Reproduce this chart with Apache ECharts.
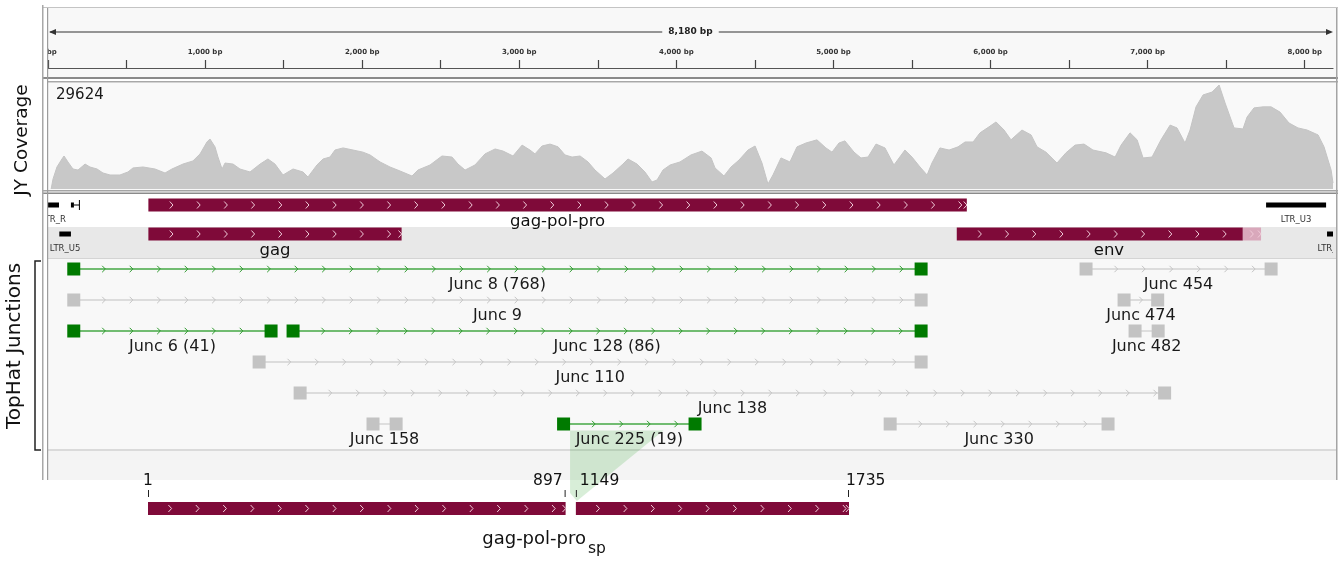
<!DOCTYPE html>
<html>
<head>
<meta charset="utf-8">
<script src="https://cdn.jsdelivr.net/npm/echarts@6/dist/echarts.min.js"></script>
<style>
  html, body { margin: 0; padding: 0; background: #ffffff; }
  #chart { width: 1344px; height: 561px; }
</style>
</head>
<body>
<div id="chart"></div>
<script>
// ---- genome ruler ----
const genomeLength = 8180;
const rulerTickStep = 500;
const rulerLabelStep = 1000;

// ---- read coverage (position in bp, depth) ----
const coverageMax = 29624;
const coveragePos = [
  20, 32, 57, 89, 102, 127, 159, 191, 236, 267,
  312, 350, 395, 458, 509, 541, 605, 681, 745, 789,
  859, 923, 968, 1012, 1031, 1063, 1082, 1108, 1127, 1178,
  1222, 1286, 1350, 1400, 1445, 1496, 1560, 1623, 1655, 1712,
  1751, 1795, 1827, 1878, 1942, 2005, 2050, 2114, 2177, 2241,
  2317, 2355, 2432, 2508, 2572, 2610, 2655, 2718, 2782, 2846,
  2897, 2960, 3018, 3068, 3100, 3145, 3196, 3247, 3291, 3336,
  3387, 3438, 3482, 3546, 3597, 3660, 3692, 3750, 3800, 3845,
  3877, 3915, 3960, 4023, 4093, 4163, 4221, 4246, 4303, 4348,
  4399, 4456, 4501, 4545, 4583, 4615, 4666, 4723, 4768, 4825,
  4895, 4952, 4991, 5035, 5073, 5131, 5175, 5220, 5271, 5328,
  5385, 5455, 5500, 5551, 5596, 5627, 5678, 5736, 5793, 5838,
  5889, 5933, 5990, 6035, 6086, 6130, 6200, 6258, 6296, 6353,
  6423, 6480, 6538, 6595, 6652, 6735, 6793, 6831, 6888, 6933,
  6971, 7028, 7085, 7143, 7187, 7238, 7270, 7308, 7353, 7410,
  7455, 7493, 7550, 7607, 7633, 7677, 7735, 7786, 7843, 7900,
  7957, 8015, 8085, 8123, 8168, 8180
];
const coverageDepth = [
  0, 2850, 6270, 8550, 9400, 7700, 5700, 5400, 7100, 6270,
  5700, 4560, 3990, 3990, 4850, 6000, 6270, 5700, 4560, 5700,
  7100, 8000, 10000, 13400, 14250, 12000, 9100, 5700, 7400, 7100,
  5700, 4850, 7100, 8550, 7100, 3990, 5700, 4850, 3420, 6840,
  8550, 9100, 11100, 11700, 11100, 10500, 9700, 7700, 6270, 5130,
  3700, 5400, 6840, 9400, 9100, 7100, 5400, 6840, 10000, 11400,
  10800, 9400, 12500, 11100, 10000, 12250, 12800, 12000, 9700, 9100,
  9400, 7700, 5400, 2850, 4560, 7100, 8550, 7100, 4850, 2000,
  2560, 5400, 6840, 7700, 9700, 10800, 8850, 6000, 3700, 6270,
  8260, 11100, 12250, 7400, 1430, 3990, 8850, 7700, 12000, 13100,
  14000, 11700, 10500, 13100, 13700, 10500, 8850, 9100, 12800, 11700,
  6840, 11100, 9100, 6270, 3990, 7400, 11700, 11100, 12000, 13400,
  13400, 16000, 17700, 19100, 16800, 14000, 16800, 15400, 12000, 10500,
  7400, 10300, 12500, 12800, 11100, 10300, 9100, 12500, 16000, 14000,
  8850, 9100, 14000, 18200, 17400, 13100, 16800, 23400, 26800, 27600,
  29624, 24500, 17400, 17100, 20500, 23100, 23400, 23400, 21900, 18800,
  17400, 16800, 15400, 12000, 5400, 1700
];

// ---- annotated genes (bp) ----
const geneNames = ['gag-pol-pro', 'gag', 'env'];
const geneRows = [0, 1, 1];
const geneStarts = [639, 639, 5785];
const geneEnds = [5849, 2251, 7722];
const geneFadedFrom = [null, null, 7606];

// ---- LTR regions (bp) ----
const ltrNames = ['LTR_R', 'LTR_U5', 'LTR_U3', 'LTR_R'];
const ltrRows = [0, 1, 0, 1];
const ltrStarts = [0, 72, 7754, 8142];
const ltrEnds = [70, 146, 8136, 8180];
const ltrRTail = [146, 165, 200];

// ---- TopHat junctions (anchor centres in bp) ----
const juncNames = ['Junc 8 (768)', 'Junc 454', 'Junc 9', 'Junc 474', 'Junc 6 (41)', 'Junc 128 (86)',
                   'Junc 482', 'Junc 110', 'Junc 138', 'Junc 158', 'Junc 225 (19)', 'Junc 330'];
const juncRows = [0, 0, 1, 1, 2, 2, 2, 3, 4, 5, 5, 5];
const juncStarts = [164, 6608, 164, 6850, 164, 1560, 6920, 1344, 1605, 2069, 3282, 5361];
const juncEnds = [5558, 7786, 5558, 7064, 1420, 5558, 7067, 5558, 7108, 2216, 4119, 6748];
const juncSupported = [1, 0, 0, 0, 1, 1, 0, 0, 0, 0, 1, 0];

// ---- spliced gag-pol-pro product (amino-acid positions) ----
const spExonStarts = [1, 1149];
const spExonEnds = [897, 1735];
const spSpliceGap = 22;
const spTitle = 'gag-pol-pro';
const spSubscript = 'sp';
const spJunction = 'Junc 225 (19)';

// ---------------------------------------------------------------
const FONT = "'DejaVu Sans', sans-serif";
const MAROON = '#7f0a39';
const MAROON_FADED = '#d9a8bb';
const GENE_CHEVRON = '#f1cbd9';

function txt(text, x, y, size, align, vAlign, fill, weight) {
  return {
    type: 'text',
    style: {
      text: text, x: x, y: y,
      fontSize: size, fontFamily: FONT, fontWeight: weight || 'normal',
      fill: fill || '#111',
      align: align, verticalAlign: vAlign,
      textAlign: align, textVerticalAlign: vAlign
    }
  };
}

function chevron(x, y, color, half) {
  return {
    type: 'polyline',
    shape: { points: [[x - 1.6, y - half], [x + 1.6, y], [x - 1.6, y + half]] },
    style: { stroke: color, fill: null, lineWidth: 1 }
  };
}

// display positions of the spliced exons
const spDisplayStarts = [];
const spDisplayEnds = [];
(function () {
  let cursor = spExonStarts[0];
  for (let i = 0; i < spExonStarts.length; i++) {
    if (i > 0) cursor += spSpliceGap;
    spDisplayStarts.push(cursor);
    cursor += spExonEnds[i] - spExonStarts[i];
    spDisplayEnds.push(cursor);
  }
})();

function renderRuler(params, api) {
  const a = api.coord([api.value(0), 36]);
  const b = api.coord([api.value(1), 36]);
  const y = a[1];
  const c = '#333';
  return {
    type: 'group',
    children: [
      { type: 'line', shape: { x1: a[0] + 2, y1: y, x2: b[0] - 2, y2: y }, style: { stroke: c, lineWidth: 1.2 } },
      { type: 'polygon', shape: { points: [[a[0] + 1, y], [a[0] + 8, y - 3], [a[0] + 8, y + 3]] }, style: { fill: c } },
      { type: 'polygon', shape: { points: [[b[0], y], [b[0] - 7, y - 3], [b[0] - 7, y + 3]] }, style: { fill: c } },
      {
        type: 'text',
        style: {
          text: genomeLength.toLocaleString('en-US') + ' bp',
          x: (a[0] + b[0]) / 2, y: y,
          fontSize: 9, fontFamily: FONT, fontWeight: 'bold', fill: '#222',
          align: 'center', verticalAlign: 'middle', textAlign: 'center', textVerticalAlign: 'middle',
          backgroundColor: '#f8f8f8', padding: [1, 6]
        }
      }
    ]
  };
}

function renderGene(params, api) {
  const i = api.value(3);
  const row = api.value(2);
  const a = api.coord([api.value(0), row + 0.5]);
  const b = api.coord([api.value(1), row + 0.5]);
  const y = a[1];
  const h = 13;
  const children = [];
  const fade = geneFadedFrom[i];
  const solidEnd = fade != null ? api.coord([fade, row + 0.5])[0] : b[0];
  children.push({ type: 'rect', shape: { x: a[0], y: y - h / 2, width: solidEnd - a[0], height: h }, style: { fill: MAROON } });
  if (fade != null) {
    children.push({ type: 'rect', shape: { x: solidEnd, y: y - h / 2, width: b[0] - solidEnd, height: h }, style: { fill: MAROON_FADED } });
  }
  for (let x = a[0] + 23; x < b[0] - 2; x += 27.2) children.push(chevron(x, y, GENE_CHEVRON, 3.5));
  children.push(chevron(b[0] - 1.5, y, GENE_CHEVRON, 3.5));
  children.push(txt(geneNames[i], (a[0] + b[0]) / 2, y + 17, 16.5, 'center', 'middle', '#111'));
  return { type: 'group', children: children };
}

function renderLtr(params, api) {
  const i = api.value(3);
  const row = api.value(2);
  const a = api.coord([api.value(0), row + 0.5]);
  const b = api.coord([api.value(1), row + 0.5]);
  const y = a[1];
  const children = [
    { type: 'rect', shape: { x: a[0], y: y - 2.5, width: Math.max(b[0] - a[0], 1), height: 5 }, style: { fill: '#000' } },
    txt(ltrNames[i], (a[0] + b[0]) / 2, y + 14.5, 8.5, 'center', 'middle', '#333')
  ];
  if (i === 0) {
    const s = api.coord([ltrRTail[0], row + 0.5])[0];
    const e = api.coord([ltrRTail[1], row + 0.5])[0];
    const t = api.coord([ltrRTail[2], row + 0.5])[0];
    children.push({ type: 'rect', shape: { x: s, y: y - 2.5, width: e - s, height: 5 }, style: { fill: '#000' } });
    children.push({ type: 'line', shape: { x1: e, y1: y, x2: t, y2: y }, style: { stroke: '#000', lineWidth: 1 } });
    children.push({ type: 'line', shape: { x1: t, y1: y - 5, x2: t, y2: y + 5 }, style: { stroke: '#000', lineWidth: 1 } });
  }
  return { type: 'group', children: children };
}

function renderJunction(params, api) {
  const i = api.value(4);
  const row = api.value(2);
  const on = api.value(3) === 1;
  const a = api.coord([api.value(0), row + 0.5]);
  const b = api.coord([api.value(1), row + 0.5]);
  const y = a[1];
  const s = 13;
  const lineColor = on ? '#45a845' : '#d3d3d3';
  const chevColor = on ? '#2f9a2f' : '#c4c4c4';
  const boxColor = on ? '#007a00' : '#c3c3c3';
  const children = [
    { type: 'line', shape: { x1: a[0], y1: y, x2: b[0], y2: y }, style: { stroke: lineColor, lineWidth: on ? 1.7 : 1.4 } }
  ];
  let n = 0;
  for (let x = a[0] + 30; x < b[0] - 8; x += 27.5) { children.push(chevron(x, y, chevColor, 3.2)); n++; }
  if (n === 0 && b[0] - a[0] > 28) children.push(chevron((a[0] + b[0]) / 2, y, chevColor, 3.2));
  children.push({ type: 'rect', shape: { x: a[0] - s / 2, y: y - s / 2, width: s, height: s }, style: { fill: boxColor } });
  children.push({ type: 'rect', shape: { x: b[0] - s / 2, y: y - s / 2, width: s, height: s }, style: { fill: boxColor } });
  children.push(txt(juncNames[i], (a[0] + b[0]) / 2, y + 15.5, 16, 'center', 'middle', '#1a1a1a'));
  return { type: 'group', children: children };
}

function renderSpliced(params, api) {
  const i = api.value(2);
  const a = api.coord([api.value(0), 38.5]);
  const b = api.coord([api.value(1), 38.5]);
  const y = a[1];
  const h = 13;
  const tickTop = api.coord([api.value(0), 20])[1];
  const tickBot = api.coord([api.value(0), 27])[1];
  const labelY = api.coord([api.value(0), 11])[1];
  const last = spExonStarts.length - 1;
  const children = [
    { type: 'rect', shape: { x: a[0], y: y - h / 2, width: b[0] - a[0], height: h }, style: { fill: MAROON } }
  ];
  for (let x = a[0] + 22; x < b[0] - 2; x += 27.4) children.push(chevron(x, y, GENE_CHEVRON, 3.5));
  children.push(chevron(b[0] - 1.5, y, GENE_CHEVRON, 3.5));
  [a[0] + 0.5, b[0] - 0.5].forEach(function (x) {
    children.push({ type: 'line', shape: { x1: x, y1: tickTop, x2: x, y2: tickBot }, style: { stroke: '#222', lineWidth: 1 } });
  });
  const startLabel = String(spExonStarts[i]);
  const endLabel = String(spExonEnds[i]);
  if (i === 0) children.push(txt(startLabel, a[0], labelY, 15.5, 'center', 'middle', '#111'));
  else children.push(txt(startLabel, a[0] + 4, labelY, 15.5, 'left', 'middle', '#111'));
  if (i === last) children.push(txt(endLabel, b[0] - 3, labelY, 15.5, 'left', 'middle', '#111'));
  else children.push(txt(endLabel, b[0] - 3, labelY, 15.5, 'right', 'middle', '#111'));
  return { type: 'group', children: children };
}

// ---- panel backgrounds, frame and titles ----
function g(el, z) { el.z = z; return el; }
const frameElements = [
  g({ type: 'rect', shape: { x: 48, y: 8, width: 1289, height: 70 }, style: { fill: '#f8f8f8' } }, 0),
  g({ type: 'line', shape: { x1: 42, y1: 7.5, x2: 1338, y2: 7.5 }, style: { stroke: '#c4c4c4', lineWidth: 1 } }, 50),
  g({ type: 'rect', shape: { x: 42, y: 77, width: 1296, height: 2 }, style: { fill: '#8a8a8a' } }, 50),
  g({ type: 'rect', shape: { x: 48, y: 81, width: 1290, height: 1.5 }, style: { fill: '#a8a8a8' } }, 50),
  g({ type: 'rect', shape: { x: 48, y: 83, width: 1289, height: 107 }, style: { fill: '#f9f9f9' } }, 0),
  g({ type: 'rect', shape: { x: 42, y: 190, width: 1296, height: 1.5 }, style: { fill: '#a4a4a4' } }, 50),
  g({ type: 'rect', shape: { x: 42, y: 192.5, width: 1296, height: 1.5 }, style: { fill: '#8a8a8a' } }, 50),
  g({ type: 'rect', shape: { x: 48, y: 194, width: 1289, height: 33 }, style: { fill: '#ffffff' } }, 0),
  g({ type: 'rect', shape: { x: 48, y: 227, width: 1289, height: 31 }, style: { fill: '#e8e8e8' } }, 0),
  g({ type: 'rect', shape: { x: 48, y: 258, width: 1289, height: 1 }, style: { fill: '#d4d4d4' } }, 0),
  g({ type: 'rect', shape: { x: 48, y: 259, width: 1289, height: 190 }, style: { fill: '#f8f8f8' } }, 0),
  g({ type: 'rect', shape: { x: 48, y: 449, width: 1289, height: 2 }, style: { fill: '#dadada' } }, 0),
  g({ type: 'rect', shape: { x: 48, y: 451, width: 1289, height: 29 }, style: { fill: '#f4f4f4' } }, 0),
  g({ type: 'rect', shape: { x: 30, y: 44, width: 17.5, height: 16 }, style: { fill: '#ffffff' } }, 40),
  g({ type: 'rect', shape: { x: 42, y: 5, width: 1.5, height: 475 }, style: { fill: '#a8a8a8' } }, 50),
  g({ type: 'rect', shape: { x: 47, y: 8, width: 1.2, height: 472 }, style: { fill: '#9c9c9c' } }, 50),
  g({ type: 'rect', shape: { x: 1336, y: 8, width: 1.5, height: 472 }, style: { fill: '#a4a4a4' } }, 50),
  g({ type: 'polyline', shape: { points: [[41, 261], [35, 261], [35, 450], [41, 450]] }, style: { stroke: '#222', lineWidth: 1.5, fill: null } }, 50),
  g({
    type: 'text', x: 22, y: 140, rotation: Math.PI / 2,
    style: { text: 'JY Coverage', fontSize: 18.5, fontFamily: FONT, fill: '#111', align: 'center', verticalAlign: 'middle', textAlign: 'center', textVerticalAlign: 'middle' }
  }, 50),
  g({
    type: 'text', x: 15, y: 346, rotation: Math.PI / 2,
    style: { text: 'TopHat Junctions', fontSize: 20, fontFamily: FONT, fill: '#111', align: 'center', verticalAlign: 'middle', textAlign: 'center', textVerticalAlign: 'middle' }
  }, 50),
  g({
    type: 'text', x: 56, y: 95,
    style: { text: String(coverageMax), fontSize: 15, fontFamily: FONT, fill: '#1a1a1a', align: 'left', verticalAlign: 'middle', textAlign: 'left', textVerticalAlign: 'middle' }
  }, 50),
  g({
    type: 'text', x: 586, y: 539,
    style: { text: spTitle, fontSize: 18, fontFamily: FONT, fill: '#111', align: 'right', verticalAlign: 'middle', textAlign: 'right', textVerticalAlign: 'middle' }
  }, 50),
  g({
    type: 'text', x: 588, y: 549,
    style: { text: spSubscript, fontSize: 15.5, fontFamily: FONT, fill: '#111', align: 'left', verticalAlign: 'middle', textAlign: 'left', textVerticalAlign: 'middle' }
  }, 50)
];

const genomeGrid = { left: 48, right: 11 };
const hiddenX = function (gi) { return { type: 'value', gridIndex: gi, min: 0, max: genomeLength, show: false }; };

const option = {
  animation: false,
  backgroundColor: '#ffffff',
  grid: [
    { left: genomeGrid.left, right: genomeGrid.right, top: 20, height: 48 },
    { left: genomeGrid.left, right: genomeGrid.right, top: 85, height: 104 },
    { left: genomeGrid.left, right: genomeGrid.right, top: 190.5, height: 2.45 * 29 },
    { left: genomeGrid.left, right: genomeGrid.right, top: 253.5, height: 6.4 * 31 },
    { left: 148, width: 701, top: 470, height: 90 }
  ],
  xAxis: [
    {
      type: 'value', gridIndex: 0, min: 0, max: genomeLength, interval: rulerTickStep, z: 3,
      axisLine: { show: true, lineStyle: { color: '#555', width: 1.2 } },
      axisTick: { show: true, inside: true, length: 8, lineStyle: { color: '#444', width: 1.2 } },
      splitLine: { show: false },
      axisLabel: {
        show: true, inside: true, margin: 16, interval: 0,
        showMinLabel: true, showMaxLabel: false,
        fontFamily: FONT, fontSize: 7, fontWeight: 'bold', color: '#333', verticalAlign: 'middle',
        formatter: function (v) { return v % rulerLabelStep === 0 ? v.toLocaleString('en-US') + ' bp' : ''; }
      }
    },
    hiddenX(1), hiddenX(2), hiddenX(3),
    { type: 'value', gridIndex: 4, min: spDisplayStarts[0], max: spDisplayEnds[spDisplayEnds.length - 1], show: false }
  ],
  yAxis: [
    { type: 'value', gridIndex: 0, min: 0, max: 48, show: false },
    { type: 'value', gridIndex: 1, min: 0, max: coverageMax, show: false },
    { type: 'value', gridIndex: 2, min: 0, max: 2.45, inverse: true, show: false },
    { type: 'value', gridIndex: 3, min: 0, max: 6.4, inverse: true, show: false },
    { type: 'value', gridIndex: 4, min: 0, max: 90, inverse: true, show: false }
  ],
  graphic: { elements: frameElements },
  series: [
    {
      type: 'custom', name: 'ruler', xAxisIndex: 0, yAxisIndex: 0, z: 4,
      data: [[0, genomeLength]], encode: { x: [0, 1] }, renderItem: renderRuler
    },
    {
      type: 'line', name: 'JY Coverage', xAxisIndex: 1, yAxisIndex: 1, z: 3,
      data: coveragePos.map(function (p, k) { return [p, coverageDepth[k]]; }),
      symbol: 'none', showSymbol: false,
      lineStyle: { color: '#c4c4c4', width: 1 },
      areaStyle: { color: '#c8c8c8', opacity: 1 }
    },
    {
      type: 'custom', name: 'genes', xAxisIndex: 2, yAxisIndex: 2, z: 3, clip: true,
      data: geneNames.map(function (n, k) { return [geneStarts[k], geneEnds[k], geneRows[k], k]; }),
      encode: { x: [0, 1], y: 2 }, renderItem: renderGene
    },
    {
      type: 'custom', name: 'LTR', xAxisIndex: 2, yAxisIndex: 2, z: 3, clip: true,
      data: ltrNames.map(function (n, k) { return [ltrStarts[k], ltrEnds[k], ltrRows[k], k]; }),
      encode: { x: [0, 1], y: 2 }, renderItem: renderLtr
    },
    {
      type: 'custom', name: 'TopHat Junctions', xAxisIndex: 3, yAxisIndex: 3, z: 3,
      data: juncNames.map(function (n, k) { return [juncStarts[k], juncEnds[k], juncRows[k], juncSupported[k], k]; }),
      encode: { x: [0, 1], y: 2 }, renderItem: renderJunction
    },
    {
      type: 'custom', name: 'gag-pol-pro sp', xAxisIndex: 4, yAxisIndex: 4, z: 3,
      data: spExonStarts.map(function (s, k) { return [spDisplayStarts[k], spDisplayEnds[k], k]; }),
      encode: { x: [0, 1] }, renderItem: renderSpliced
    }
  ]
};

const chart = echarts.init(document.getElementById('chart'));
chart.setOption(option);

// shaded wedge linking the spliced junction to the spliced product
(function () {
  const j = juncNames.indexOf(spJunction);
  const a = chart.convertToPixel({ gridIndex: 3 }, [juncStarts[j], juncRows[j] + 0.5]);
  const b = chart.convertToPixel({ gridIndex: 3 }, [juncEnds[j], juncRows[j] + 0.5]);
  const barTop = chart.convertToPixel({ gridIndex: 4 }, [spDisplayStarts[1], 32])[1];
  const acceptor = chart.convertToPixel({ gridIndex: 4 }, [spDisplayStarts[1], 32])[0];
  const top = a[1] + 6.5;
  const x0 = a[0] + 6.5;
  const x1 = a[0] + 0.76 * (b[0] - a[0]);
  frameElements.push(g({
    type: 'polygon',
    shape: { points: [[x0, top], [x1, top], [acceptor + 1, barTop - 1], [x0, barTop - 9]] },
    style: { fill: 'rgba(60, 170, 60, 0.2)' }
  }, 1));
  chart.setOption({ graphic: { elements: frameElements } }, { replaceMerge: ['graphic'] });
})();
</script>
</body>
</html>
